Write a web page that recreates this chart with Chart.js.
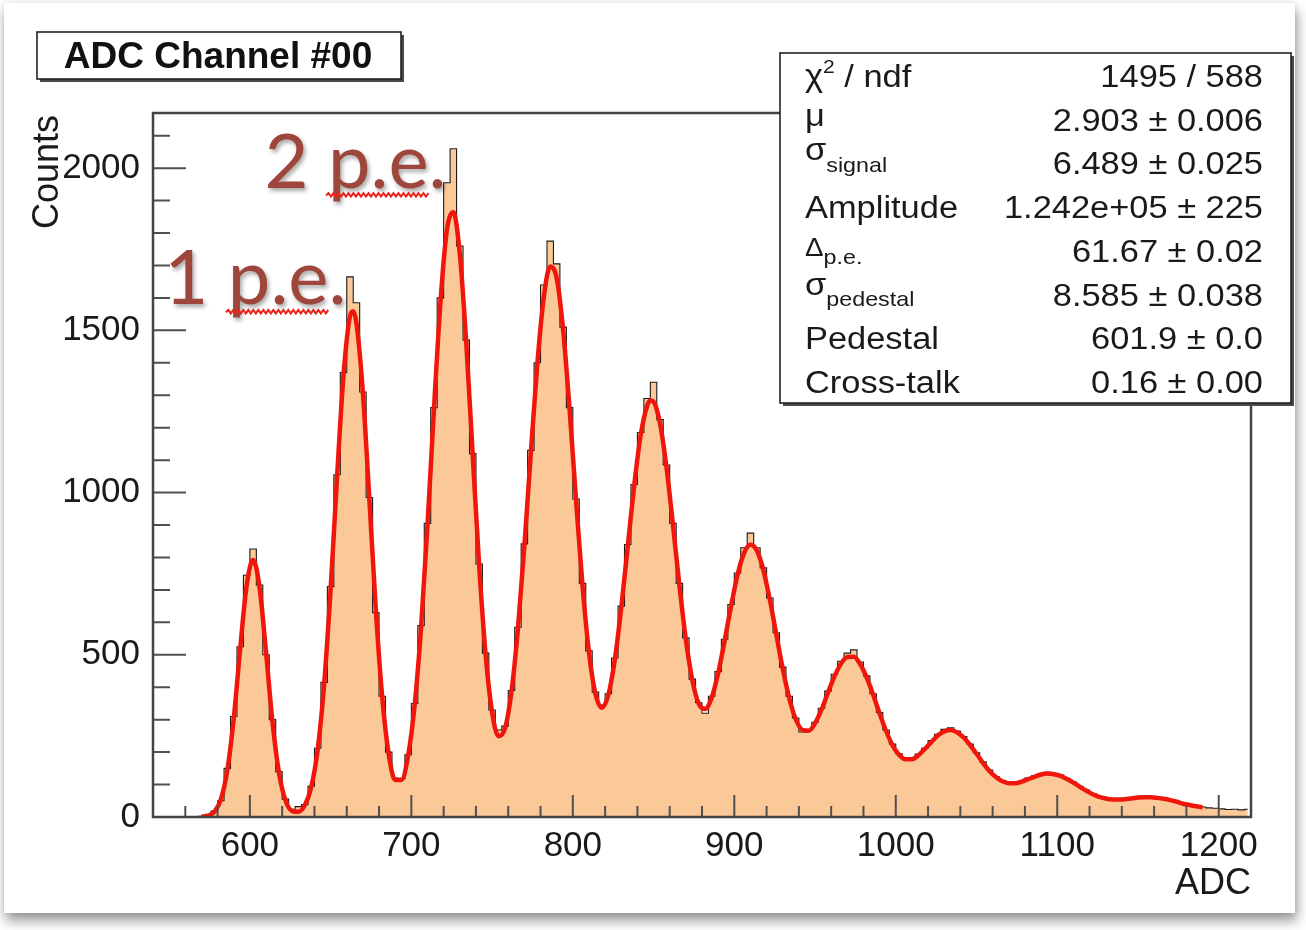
<!DOCTYPE html>
<html>
<head>
<meta charset="utf-8">
<title>ADC Channel #00</title>
<script src="https://cdn.jsdelivr.net/npm/chart.js"></script>
<style>
  html, body { margin: 0; padding: 0; background: #fff; }
  #card {
    position: absolute; left: 4px; top: 3px; width: 1291px; height: 910px; background: #fff;
    box-shadow: 2px 8px 12px rgba(0, 0, 0, 0.4), 0 0 6px rgba(0, 0, 0, 0.1);
  }
  #myChart { position: absolute; left: 0; top: 0; }
</style>
</head>
<body>
<div id="card"></div>
<canvas id="myChart" width="1306" height="930"></canvas>
<script>
// bin centres of the histogram (4 ADC wide)
const adcBins = [
  542, 546, 550, 554, 558, 562, 566, 570, 574, 578, 582, 586, 590, 594, 598, 602, 606, 610, 614, 618,
  622, 626, 630, 634, 638, 642, 646, 650, 654, 658, 662, 666, 670, 674, 678, 682, 686, 690, 694, 698,
  702, 706, 710, 714, 718, 722, 726, 730, 734, 738, 742, 746, 750, 754, 758, 762, 766, 770, 774, 778,
  782, 786, 790, 794, 798, 802, 806, 810, 814, 818, 822, 826, 830, 834, 838, 842, 846, 850, 854, 858,
  862, 866, 870, 874, 878, 882, 886, 890, 894, 898, 902, 906, 910, 914, 918, 922, 926, 930, 934, 938,
  942, 946, 950, 954, 958, 962, 966, 970, 974, 978, 982, 986, 990, 994, 998, 1002, 1006, 1010, 1014, 1018,
  1022, 1026, 1030, 1034, 1038, 1042, 1046, 1050, 1054, 1058, 1062, 1066, 1070, 1074, 1078, 1082, 1086, 1090, 1094, 1098,
  1102, 1106, 1110, 1114, 1118, 1122, 1126, 1130, 1134, 1138, 1142, 1146, 1150, 1154, 1158, 1162, 1166, 1170, 1174, 1178,
  1182, 1186, 1190, 1194, 1198, 1202, 1206, 1210, 1214, 1218
];
const histCounts = [
  0, 0, 0, 0, 0, 0, 0, 2, 5, 18, 50, 150, 310, 525, 745, 826, 715, 500, 300, 140,
  55, 24, 32, 38, 95, 212, 415, 710, 1055, 1370, 1665, 1585, 1310, 985, 630, 372, 200, 120, 118, 192,
  350, 590, 905, 1262, 1600, 1955, 2060, 1760, 1470, 1120, 780, 505, 330, 268, 280, 390, 585, 842, 1130, 1400,
  1640, 1775, 1705, 1510, 1262, 980, 720, 512, 385, 345, 380, 490, 650, 840, 1025, 1185, 1290, 1340, 1225, 1085,
  905, 720, 552, 425, 352, 320, 372, 448, 548, 655, 752, 830, 875, 830, 768, 675, 568, 462, 372, 305,
  262, 268, 292, 335, 388, 440, 480, 505, 515, 478, 435, 380, 322, 268, 225, 195, 180, 182, 194, 212,
  236, 255, 270, 275, 265, 248, 225, 198, 170, 145, 125, 112, 106, 106, 111, 120, 127, 134, 138, 134,
  129, 119, 108, 95, 83, 72, 63, 58, 56, 55, 56, 59, 62, 63, 63, 61, 57, 53, 48, 43,
  38, 34, 31, 28, 27, 25, 23, 24, 22, 24
];

// fit curve
const fitAdc = [
  570, 574, 578, 582, 586, 590, 594, 598, 602, 606, 610, 614, 618, 622, 626, 630, 634, 638, 642, 646,
  650, 654, 658, 662, 664, 666, 670, 674, 678, 682, 686, 690, 694, 698, 702, 706, 710, 714, 718, 722,
  726, 730, 734, 738, 742, 746, 750, 754, 758, 762, 766, 770, 774, 778, 782, 786, 790, 794, 798, 802,
  806, 810, 814, 818, 822, 826, 830, 834, 838, 842, 846, 848, 850, 854, 858, 862, 866, 870, 874, 878,
  882, 886, 890, 894, 898, 902, 906, 910, 914, 918, 922, 926, 930, 934, 938, 942, 946, 950, 954, 958,
  962, 966, 970, 974, 978, 982, 986, 990, 994, 998, 1002, 1006, 1010, 1014, 1018, 1022, 1026, 1030, 1034, 1038,
  1042, 1046, 1050, 1054, 1058, 1062, 1066, 1070, 1074, 1078, 1082, 1086, 1090, 1094, 1098, 1102, 1106, 1110, 1114, 1118,
  1122, 1126, 1130, 1134, 1138, 1142, 1146, 1150, 1154, 1158, 1162, 1166, 1170, 1174, 1178, 1182, 1186, 1190
];
const fitCounts = [
  1, 4, 16, 54, 143, 303, 519, 714, 792, 707, 508, 293, 137, 52, 19, 16, 36, 92, 208, 409,
  702, 1048, 1363, 1543, 1559, 1522, 1307, 979, 639, 367, 193, 114, 115, 189, 343, 582, 899, 1256, 1585, 1808,
  1864, 1736, 1462, 1116, 775, 501, 323, 249, 273, 386, 580, 836, 1122, 1395, 1601, 1697, 1661, 1501, 1256, 976,
  713, 507, 380, 337, 376, 485, 645, 834, 1021, 1176, 1267, 1284, 1280, 1213, 1078, 901, 714, 547, 422, 349,
  333, 368, 443, 543, 650, 746, 813, 839, 821, 761, 670, 563, 457, 367, 302, 269, 266, 289, 331, 383,
  433, 472, 493, 494, 471, 430, 377, 319, 265, 221, 192, 178, 178, 190, 210, 231, 251, 264, 268, 261,
  245, 222, 195, 167, 142, 123, 110, 104, 104, 109, 117, 124, 131, 134, 132, 127, 117, 106, 93, 81,
  70, 62, 57, 54, 54, 55, 57, 60, 61, 61, 59, 56, 52, 47, 41, 37, 33, 30
];

const xTickLabels = [600, 700, 800, 900, 1000, 1100, 1200];
const yTickLabels = [0, 500, 1000, 1500, 2000];

const titleText = 'ADC Channel #00';

// stat box: label pieces [text, font size, baseline shift]
const statLabels = [
  [['\u03c7', 31, -1], ['2', 19, -14], [' / ndf', 31, 0]],
  [['\u03bc', 31, -5]],
  [['\u03c3', 31, -14], ['signal', 21, -2]],
  [['Amplitude', 31, 0]],
  [['\u0394', 25, -6], ['p.e.', 21, 2]],
  [['\u03c3', 31, -11], ['pedestal', 21, 0]],
  [['Pedestal', 31, 0]],
  [['Cross-talk', 31, 0]]
];
const statValues = [
  '1495 / 588',
  '2.903 \u00b1 0.006',
  '6.489 \u00b1 0.025',
  '1.242e+05 \u00b1 225',
  '61.67 \u00b1 0.02',
  '8.585 \u00b1 0.038',
  '601.9 \u00b1 0.0',
  '0.16 \u00b1 0.00'
];

// hand-written labels on the slide: [text, ADC, counts]
const peLabels = [
  ['1 p.e.', 547, 1580],
  ['2 p.e.', 609, 1940]
];

const FONT = '"Liberation Sans", Arial, sans-serif';

function drawRich(ctx, parts, x, y, align, sx) {
  ctx.save();
  ctx.translate(x, y);
  ctx.scale(sx, 1);
  ctx.textAlign = 'left';
  ctx.textBaseline = 'alphabetic';
  let w = 0;
  parts.forEach(p => { ctx.font = p[1] + 'px ' + FONT; w += ctx.measureText(p[0]).width; });
  let cx = align === 'right' ? -w : 0;
  parts.forEach(p => {
    ctx.font = p[1] + 'px ' + FONT;
    ctx.fillText(p[0], cx, p[2]);
    cx += ctx.measureText(p[0]).width;
  });
  ctx.restore();
}

function shadowBox(ctx, x, y, w, h, off) {
  ctx.fillStyle = '#4a4a4a';
  ctx.fillRect(x + off, y + off, w, h);
  ctx.fillStyle = '#fff';
  ctx.fillRect(x, y, w, h);
  ctx.strokeStyle = '#222';
  ctx.lineWidth = 1.6;
  ctx.strokeRect(x, y, w, h);
}

function squiggle(ctx, x0, x1, y) {
  ctx.beginPath();
  let up = true;
  ctx.moveTo(x0, y);
  for (let xx = x0 + 2.5; xx <= x1; xx += 2.5) {
    ctx.lineTo(xx, up ? y - 2.5 : y + 1);
    up = !up;
  }
  ctx.stroke();
}

const rootDecor = {
  id: 'rootDecor',
  afterDatasetsDraw(chart) {
    const { ctx, chartArea: a, scales: { x, y } } = chart;
    ctx.save();
    // ROOT style ticks pointing into the frame
    ctx.strokeStyle = '#505050';
    ctx.lineWidth = 2;
    ctx.beginPath();
    for (let v = x.min + 20; v < x.max; v += 20) {
      const px = x.getPixelForValue(v);
      const len = v % 100 === 0 ? 22 : 11;
      ctx.moveTo(px, a.bottom);
      ctx.lineTo(px, a.bottom - len);
    }
    for (let v = y.min + 100; v < y.max; v += 100) {
      const py = y.getPixelForValue(v);
      const len = v % 500 === 0 ? 33 : 17;
      ctx.moveTo(a.left, py);
      ctx.lineTo(a.left + len, py);
    }
    ctx.stroke();
    ctx.strokeStyle = '#444';
    ctx.lineWidth = 2.5;
    ctx.strokeRect(a.left, a.top, a.right - a.left, a.bottom - a.top);
    ctx.restore();
  },
  afterDraw(chart) {
    const { ctx, chartArea: a, scales: { x, y } } = chart;
    ctx.save();

    // axis titles
    ctx.fillStyle = '#1a1a1a';
    ctx.font = '36px ' + FONT;
    ctx.textAlign = 'right';
    ctx.textBaseline = 'alphabetic';
    ctx.fillText('ADC', a.right, 894);
    ctx.save();
    ctx.translate(58, a.top + 2);
    ctx.rotate(-Math.PI / 2);
    ctx.fillText('Counts', 0, 0);
    ctx.restore();

    // title box
    shadowBox(ctx, 37, 32, 364, 47, 3);
    ctx.fillStyle = '#111';
    ctx.font = 'bold 37px ' + FONT;
    ctx.textAlign = 'center';
    ctx.fillText(titleText, 218, 68);

    // stats box
    shadowBox(ctx, 780, 53, 511, 350, 3);
    ctx.fillStyle = '#1a1a1a';
    statLabels.forEach((parts, i) => {
      const base = 87 + i * 43.7;
      drawRich(ctx, parts, 805, base, 'left', 1.11);
      drawRich(ctx, [[statValues[i], 31, 0]], 1263, base, 'right', 1.11);
    });

    // p.e. labels
    peLabels.forEach(([txt, adc, cnt]) => {
      const px = x.getPixelForValue(adc);
      const py = y.getPixelForValue(cnt);
      ctx.save();
      ctx.font = '76px Lato, "Open Sans", sans-serif';
      ctx.textAlign = 'left';
      ctx.shadowColor = 'rgba(0,0,0,0.35)';
      ctx.shadowBlur = 4;
      ctx.shadowOffsetX = 2;
      ctx.shadowOffsetY = 3;
      ctx.fillStyle = 'rgb(158,70,60)';
      ctx.fillText(txt, px, py);
      ctx.shadowColor = 'transparent';
      const w0 = ctx.measureText(txt.slice(0, 2)).width;
      const w1 = ctx.measureText(txt.slice(0, 5)).width;
      ctx.strokeStyle = 'rgb(235,35,25)';
      ctx.lineWidth = 2;
      squiggle(ctx, px + w0 - 2, px + w1 + 2, py + 8);
      ctx.restore();
    });

    ctx.restore();
  }
};

Chart.defaults.font.family = FONT;

const ctx = document.getElementById('myChart').getContext('2d');
const tickFont = { family: FONT, size: 35 };

const myChart = new Chart(ctx, {
  type: 'line',
  data: {
    datasets: [
      {
        label: 'fit',
        data: fitAdc.map((v, i) => ({ x: v, y: fitCounts[i] })),
        borderColor: 'rgb(240,22,12)',
        borderWidth: 4.5,
        pointRadius: 0,
        cubicInterpolationMode: 'monotone',
        fill: false,
        order: 0
      },
      {
        label: 'ADC',
        data: adcBins.map((v, i) => ({ x: v, y: histCounts[i] })),
        stepped: 'middle',
        borderColor: '#1c1c1c',
        borderWidth: 1.1,
        backgroundColor: 'rgb(251,201,152)',
        fill: 'origin',
        pointRadius: 0,
        order: 1
      }
    ]
  },
  options: {
    responsive: false,
    animation: false,
    devicePixelRatio: 1,
    layout: { padding: { left: 0, right: 55, top: 113, bottom: 0 } },
    plugins: {
      legend: { display: false },
      tooltip: { enabled: false }
    },
    scales: {
      x: {
        type: 'linear',
        min: 540,
        max: 1220,
        grid: { display: false },
        border: { display: false },
        afterBuildTicks: s => { s.ticks = xTickLabels.map(v => ({ value: v })); },
        afterFit: s => { s.height = 113; },
        ticks: {
          font: tickFont, color: '#1a1a1a', padding: 0, maxRotation: 0, autoSkip: false,
          callback: v => String(v)
        }
      },
      y: {
        min: 0,
        max: 2170,
        grid: { display: false },
        border: { display: false },
        afterBuildTicks: s => { s.ticks = yTickLabels.map(v => ({ value: v })); },
        afterFit: s => { s.width = 153; },
        ticks: {
          font: tickFont, color: '#1a1a1a', padding: 5, autoSkip: false,
          callback: v => String(v)
        }
      }
    }
  },
  plugins: [rootDecor]
});
</script>
</body>
</html>
